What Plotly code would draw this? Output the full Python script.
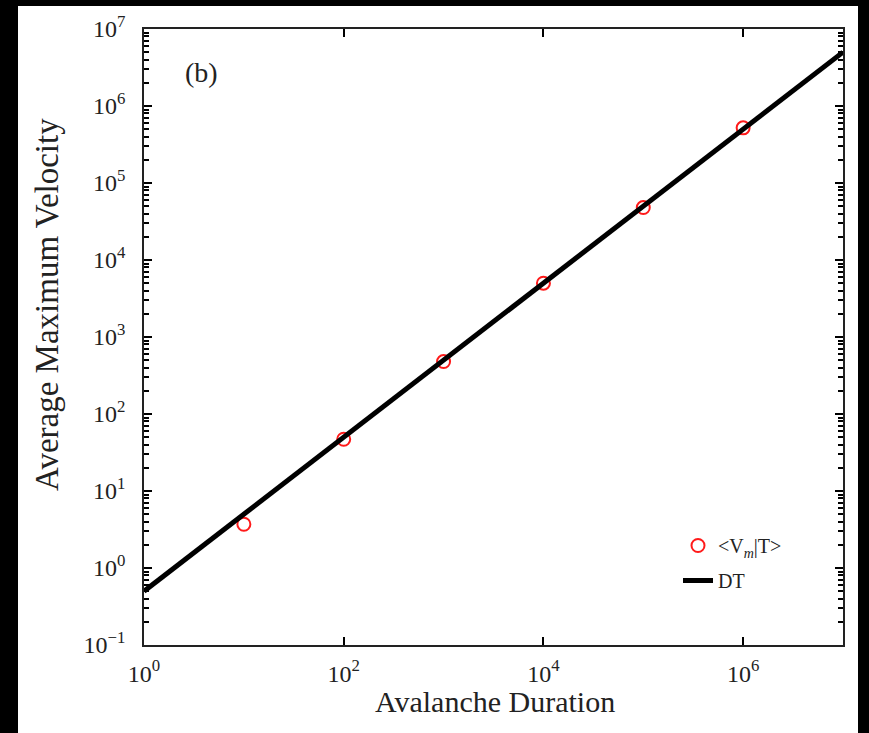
import plotly.graph_objects as go

# Data
duration_T = [1e1, 1e2, 1e3, 1e4, 1e5, 1e6]
avg_max_velocity = [3.7, 47, 480, 5000, 48000, 520000]
dt_T = [1e0, 1e7]
dt_V = [0.5, 5e6]

x_tickvals = [1e0, 1e2, 1e4, 1e6]
x_ticktext = ["10<sup>0</sup>", "10<sup>2</sup>", "10<sup>4</sup>", "10<sup>6</sup>"]
y_exps = list(range(-1, 8))
y_tickvals = [10.0 ** e for e in y_exps]
y_ticktext = ["10<sup>%s</sup>" % (str(e).replace("-", "\u2212")) for e in y_exps]
y_minor = [k * 10.0 ** e for e in range(-1, 7) for k in range(2, 10)]

FONT = "Liberation Serif"

fig = go.Figure()
fig.add_trace(go.Scatter(
    x=duration_T, y=avg_max_velocity, mode="markers",
    name="&lt;V<sub><i>m</i></sub>|T&gt;",
    marker=dict(symbol="circle-open", size=13, color="#ff1a1a", line=dict(width=2, color="#ff1a1a")),
    legendgroup="a",
))
fig.add_trace(go.Scatter(
    x=dt_T, y=dt_V, mode="lines", name="DT",
    line=dict(color="black", width=5),
    legendgroup="b",
))

W, H = 869, 733
L, R, T, B = 144, 26, 29, 88
pw, ph = W - L - R, H - T - B

def px_to_paper_x(px):
    return (px - L) / pw

def px_to_paper_y(py):
    return (H - B - py) / ph

fig.update_layout(
    width=W, height=H,
    margin=dict(l=L, r=R, t=T, b=B, pad=0),
    paper_bgcolor="black",
    plot_bgcolor="white",
    font=dict(family=FONT, color="#222", size=20),
    showlegend=True,
    legend=dict(
        x=px_to_paper_x(678), y=px_to_paper_y(526), xanchor="left", yanchor="top",
        bgcolor="rgba(0,0,0,0)", font=dict(size=20, family=FONT, color="#222"),
        traceorder="grouped", tracegroupgap=6,
    ),
    shapes=[dict(
        type="rect", xref="paper", yref="paper", layer="below",
        x0=px_to_paper_x(18), x1=px_to_paper_x(858),
        y0=px_to_paper_y(740), y1=px_to_paper_y(6),
        fillcolor="white", line=dict(width=0),
    )],
    annotations=[
        dict(text="(b)", xref="paper", yref="paper", x=px_to_paper_x(201), y=px_to_paper_y(73),
             showarrow=False, font=dict(size=28, family=FONT, color="#222"), xanchor="center", yanchor="middle"),
        dict(text="Avalanche Duration", xref="paper", yref="paper", x=px_to_paper_x(495), y=px_to_paper_y(701),
             showarrow=False, font=dict(size=30, family=FONT, color="#222"), xanchor="center", yanchor="middle"),
        dict(text="Average Maximum Velocity", xref="paper", yref="paper", x=px_to_paper_x(47), y=px_to_paper_y(305),
             showarrow=False, textangle=-90, font=dict(size=33, family=FONT, color="#222"),
             xanchor="center", yanchor="middle"),
    ],
)

fig.update_xaxes(
    type="log", range=[0, 7],
    tickmode="array", tickvals=x_tickvals, ticktext=x_ticktext,
    ticks="inside", ticklen=8, tickwidth=2, tickcolor="black",
    showline=True, linecolor="#222", linewidth=1.5, mirror="allticks",
    showgrid=False, zeroline=False,
    tickfont=dict(size=24, family=FONT, color="#222"),
    ticklabelstandoff=6,
)
fig.update_yaxes(
    type="log", range=[-1, 7],
    tickmode="array", tickvals=y_tickvals, ticktext=y_ticktext,
    ticks="inside", ticklen=8, tickwidth=2, tickcolor="black",
    showline=True, linecolor="#222", linewidth=1.5, mirror="allticks",
    showgrid=False, zeroline=False,
    tickfont=dict(size=24, family=FONT, color="#222"),
    ticklabelstandoff=12,
    minor=dict(tickmode="array", tickvals=y_minor, ticks="inside", ticklen=5,
               tickwidth=1.5, tickcolor="black", showgrid=False),
)

fig.write_html("out.html")
